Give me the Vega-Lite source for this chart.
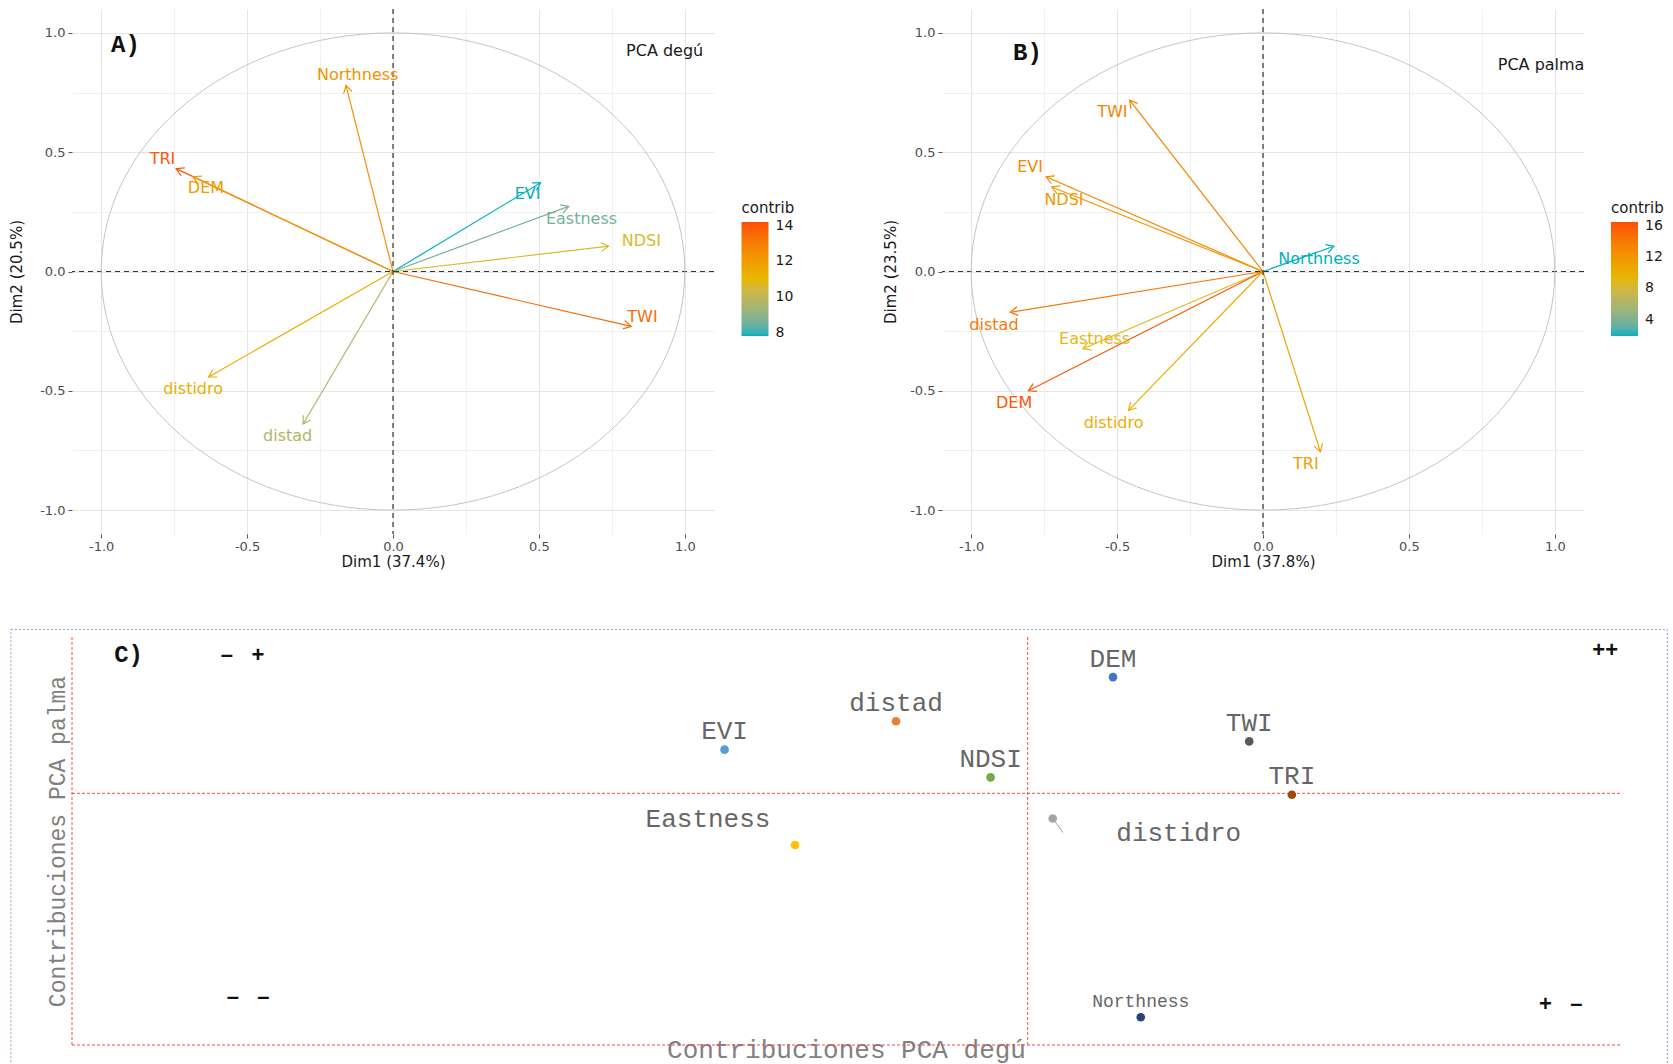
{
  "$schema": "https://vega.github.io/schema/vega-lite/v6.json",
  "padding": {"left": 9, "top": 8, "right": 0, "bottom": 0},
  "background": "white",
  "config": {"view": {"stroke": null}},
  "datasets": {
    "degu": [
      {"var": "TRI", "x": -0.743, "y": 0.431, "lx": -0.79, "ly": 0.473, "contrib": 13.96},
      {"var": "DEM", "x": -0.685, "y": 0.397, "lx": -0.641, "ly": 0.349, "contrib": 12.03},
      {"var": "Northness", "x": -0.161, "y": 0.78, "lx": -0.121, "ly": 0.824, "contrib": 12.33},
      {"var": "EVI", "x": 0.506, "y": 0.372, "lx": 0.461, "ly": 0.323, "contrib": 7.84},
      {"var": "Eastness", "x": 0.602, "y": 0.273, "lx": 0.646, "ly": 0.222, "contrib": 8.6},
      {"var": "NDSI", "x": 0.739, "y": 0.106, "lx": 0.851, "ly": 0.129, "contrib": 10.71},
      {"var": "TWI", "x": 0.816, "y": -0.23, "lx": 0.855, "ly": -0.191, "contrib": 13.5},
      {"var": "distidro", "x": -0.632, "y": -0.442, "lx": -0.685, "ly": -0.492, "contrib": 11.38},
      {"var": "distad", "x": -0.308, "y": -0.639, "lx": -0.361, "ly": -0.689, "contrib": 9.69}
    ],
    "palma": [
      {"var": "TWI", "x": -0.457, "y": 0.718, "lx": -0.516, "ly": 0.669, "contrib": 13.3},
      {"var": "EVI", "x": -0.743, "y": 0.397, "lx": -0.798, "ly": 0.439, "contrib": 12.95},
      {"var": "NDSI", "x": -0.724, "y": 0.354, "lx": -0.682, "ly": 0.299, "contrib": 11.78},
      {"var": "Northness", "x": 0.243, "y": 0.106, "lx": 0.192, "ly": 0.054, "contrib": 1.67},
      {"var": "distad", "x": -0.866, "y": -0.171, "lx": -0.922, "ly": -0.225, "contrib": 14.15},
      {"var": "Eastness", "x": -0.617, "y": -0.324, "lx": -0.577, "ly": -0.282, "contrib": 8.93},
      {"var": "DEM", "x": -0.804, "y": -0.5, "lx": -0.853, "ly": -0.551, "contrib": 16.01},
      {"var": "distidro", "x": -0.461, "y": -0.582, "lx": -0.512, "ly": -0.636, "contrib": 10.05},
      {"var": "TRI", "x": 0.197, "y": -0.756, "lx": 0.147, "ly": -0.806, "contrib": 11.05}
    ],
    "contrib": [
      {"var": "EVI", "degu": 7.84, "palma": 12.95},
      {"var": "Eastness", "degu": 8.6, "palma": 8.93},
      {"var": "distad", "degu": 9.69, "palma": 14.15},
      {"var": "NDSI", "degu": 10.71, "palma": 11.78},
      {"var": "distidro", "degu": 11.38, "palma": 10.05},
      {"var": "DEM", "degu": 12.03, "palma": 16.01},
      {"var": "Northness", "degu": 12.33, "palma": 1.67},
      {"var": "TWI", "degu": 13.5, "palma": 13.3},
      {"var": "TRI", "degu": 13.96, "palma": 11.05}
    ],
    "redlines": [
      {"x1": 0.8, "y1": 0.5, "x2": 0.8, "y2": 17.7},
      {"x1": 11.11, "y1": 0.5, "x2": 11.11, "y2": 17.7},
      {"x1": 0.8, "y1": 0.5, "x2": 17.5, "y2": 0.5},
      {"x1": 0.8, "y1": 11.11, "x2": 17.5, "y2": 11.11}
    ],
    "signs": [
      {"t": "–\u00a0\u00a0\u00a0+", "x": 2.64, "y": 16.94},
      {"t": "++", "x": 17.34, "y": 17.14},
      {"t": "–\u00a0\u00a0\u00a0–", "x": 2.7, "y": 2.54},
      {"t": "+\u00a0\u00a0\u00a0–", "x": 16.86, "y": 2.23}
    ]
  },
  "resolve": {"scale": {"color": "independent"}, "legend": {"color": "independent"}},
  "spacing": 59,
  "vconcat": [
    {
      "hconcat": [
        {
          "width": 642,
          "height": 525,
          "resolve": {"scale": {"color": "independent"}, "legend": {"color": "independent"}},
          "layer": [
            {
              "data": {"name": "degu"},
              "mark": {"type": "rule", "strokeWidth": 1.2},
              "encoding": {
                "x": {"field": "x", "type": "quantitative",
                  "scale": {"domain": [-1.1, 1.1], "nice": false, "zero": false},
                  "axis": {
                    "title": "Dim1 (37.4%)",
                    "values": [-1, -0.75, -0.5, -0.25, 0, 0.25, 0.5, 0.75, 1],
                    "labelExpr": "abs(datum.value % 0.5) < 0.01 ? replace(format(datum.value, '.1f'), '\u2212', '-') : ''",
                    "labelOverlap": false, "labelFlush": false,
                    "grid": true,
                    "gridColor": {"condition": {"test": "abs(datum.value % 0.5) < 0.01", "value": "#E6E6E6"}, "value": "#F0F0F0"},
                    "tickColor": {"condition": {"test": "abs(datum.value % 0.5) < 0.01", "value": "#555555"}, "value": "transparent"},
                    "tickSize": 4, "domain": false, "labelPadding": 2,
                    "labelFont": "DejaVu Sans", "labelFontSize": 13, "labelColor": "#4D4D4D",
                    "titleFont": "DejaVu Sans", "titleFontSize": 15, "titleFontWeight": "normal", "titleColor": "#1A1A1A", "titlePadding": 1
                  }},
                "y": {"field": "y", "type": "quantitative",
                  "scale": {"domain": [-1.1, 1.1], "nice": false, "zero": false},
                  "axis": {
                    "title": "Dim2 (20.5%)",
                    "values": [-1, -0.75, -0.5, -0.25, 0, 0.25, 0.5, 0.75, 1],
                    "labelExpr": "abs(datum.value % 0.5) < 0.01 ? replace(format(datum.value, '.1f'), '\u2212', '-') : ''",
                    "labelOverlap": false, "labelFlush": false,
                    "grid": true,
                    "gridColor": {"condition": {"test": "abs(datum.value % 0.5) < 0.01", "value": "#E6E6E6"}, "value": "#F0F0F0"},
                    "tickColor": {"condition": {"test": "abs(datum.value % 0.5) < 0.01", "value": "#555555"}, "value": "transparent"},
                    "tickSize": 4, "domain": false, "labelPadding": 3,
                    "labelFont": "DejaVu Sans", "labelFontSize": 13, "labelColor": "#4D4D4D",
                    "titleFont": "DejaVu Sans", "titleFontSize": 15, "titleFontWeight": "normal", "titleColor": "#1A1A1A", "titlePadding": 15
                  }},
                "x2": {"datum": 0},
                "y2": {"datum": 0},
                "color": {"field": "contrib", "type": "quantitative",
                  "scale": {"type": "linear", "domain": [7.83, 11.0, 14.2], "range": ["#00AFBB", "#E7B800", "#FC4E07"], "interpolate": "lab"},
                  "legend": {"title": "contrib", "orient": "none", "legendX": 669.5, "legendY": 192, "direction": "vertical",
                    "values": [8, 10, 12, 14], "gradientLength": 114, "gradientThickness": 27, "gradientStrokeWidth": 0,
                    "titleFont": "DejaVu Sans", "titleFontSize": 15, "titleFontWeight": "normal", "titleColor": "#1A1A1A", "titlePadding": 6,
                    "labelFont": "DejaVu Sans", "labelFontSize": 14, "labelColor": "#1A1A1A", "labelOffset": 7}}
              }
            },
            {
              "data": {"values": [{}]},
              "mark": {"type": "rule", "color": "#333333", "strokeDash": [5, 4], "strokeWidth": 1.2},
              "encoding": {"x": {"datum": 0, "type": "quantitative"}}
            },
            {
              "data": {"values": [{}]},
              "mark": {"type": "rule", "color": "#333333", "strokeDash": [5, 4], "strokeWidth": 1.2},
              "encoding": {"y": {"datum": 0, "type": "quantitative"}}
            },
            {
              "data": {"values": [{}]},
              "mark": {"type": "point", "filled": false, "color": "#C4C4C4", "strokeWidth": 1, "opacity": 1, "size": 340589,
                "shape": "M 1 0 C 1 0.4516 0.5523 0.8177 0 0.8177 C -0.5523 0.8177 -1 0.4516 -1 0 C -1 -0.4516 -0.5523 -0.8177 0 -0.8177 C 0.5523 -0.8177 1 -0.4516 1 0 Z"},
              "encoding": {"x": {"datum": 0, "type": "quantitative"}, "y": {"datum": 0, "type": "quantitative"}}
            },
            {
              "data": {"name": "degu"},
              "transform": [{"calculate": "atan2(datum.x * 291.8, datum.y * 238.6) * 180 / PI", "as": "ang"}],
              "mark": {"type": "point", "filled": false, "strokeWidth": 1.2, "opacity": 1, "size": 300, "shape": "M -0.5 0.866 L 0 0 L 0.5 0.866"},
              "encoding": {
                "x": {"field": "x", "type": "quantitative"},
                "y": {"field": "y", "type": "quantitative"},
                "angle": {"field": "ang", "type": "quantitative", "scale": null},
                "color": {"field": "contrib", "type": "quantitative",
                  "scale": {"type": "linear", "domain": [7.83, 11.0, 14.2], "range": ["#00AFBB", "#E7B800", "#FC4E07"], "interpolate": "lab"},
                  "legend": null}
              }
            },
            {
              "data": {"name": "degu"},
              "mark": {"type": "text", "font": "DejaVu Sans", "fontSize": 16, "align": "center", "baseline": "middle"},
              "encoding": {
                "x": {"field": "lx", "type": "quantitative"},
                "y": {"field": "ly", "type": "quantitative"},
                "text": {"field": "var"},
                "color": {"field": "contrib", "type": "quantitative",
                  "scale": {"type": "linear", "domain": [7.83, 11.0, 14.2], "range": ["#00AFBB", "#E7B800", "#FC4E07"], "interpolate": "lab"},
                  "legend": null}
              }
            },
            {
              "data": {"values": [{"t": "A)", "x": -0.917, "y": 0.948}]},
              "mark": {"type": "text", "font": "Liberation Mono", "fontWeight": "bold", "fontSize": 24, "color": "#111111", "align": "center", "baseline": "middle"},
              "encoding": {"x": {"field": "x", "type": "quantitative"}, "y": {"field": "y", "type": "quantitative"}, "text": {"field": "t"}}
            },
            {
              "data": {"values": [{"t": "PCA degú", "x": 0.931, "y": 0.922}]},
              "mark": {"type": "text", "font": "DejaVu Sans", "fontSize": 16, "color": "#1A1A1A", "align": "center", "baseline": "middle"},
              "encoding": {"x": {"field": "x", "type": "quantitative"}, "y": {"field": "y", "type": "quantitative"}, "text": {"field": "t"}}
            }
          ]
        },
        {
          "width": 642,
          "height": 525,
          "resolve": {"scale": {"color": "independent"}, "legend": {"color": "independent"}},
          "layer": [
            {
              "data": {"name": "palma"},
              "mark": {"type": "rule", "strokeWidth": 1.2},
              "encoding": {
                "x": {"field": "x", "type": "quantitative",
                  "scale": {"domain": [-1.1, 1.1], "nice": false, "zero": false},
                  "axis": {
                    "title": "Dim1 (37.8%)",
                    "values": [-1, -0.75, -0.5, -0.25, 0, 0.25, 0.5, 0.75, 1],
                    "labelExpr": "abs(datum.value % 0.5) < 0.01 ? replace(format(datum.value, '.1f'), '\u2212', '-') : ''",
                    "labelOverlap": false, "labelFlush": false,
                    "grid": true,
                    "gridColor": {"condition": {"test": "abs(datum.value % 0.5) < 0.01", "value": "#E6E6E6"}, "value": "#F0F0F0"},
                    "tickColor": {"condition": {"test": "abs(datum.value % 0.5) < 0.01", "value": "#555555"}, "value": "transparent"},
                    "tickSize": 4, "domain": false, "labelPadding": 2,
                    "labelFont": "DejaVu Sans", "labelFontSize": 13, "labelColor": "#4D4D4D",
                    "titleFont": "DejaVu Sans", "titleFontSize": 15, "titleFontWeight": "normal", "titleColor": "#1A1A1A", "titlePadding": 1
                  }},
                "y": {"field": "y", "type": "quantitative",
                  "scale": {"domain": [-1.1, 1.1], "nice": false, "zero": false},
                  "axis": {
                    "title": "Dim2 (23.5%)",
                    "values": [-1, -0.75, -0.5, -0.25, 0, 0.25, 0.5, 0.75, 1],
                    "labelExpr": "abs(datum.value % 0.5) < 0.01 ? replace(format(datum.value, '.1f'), '\u2212', '-') : ''",
                    "labelOverlap": false, "labelFlush": false,
                    "grid": true,
                    "gridColor": {"condition": {"test": "abs(datum.value % 0.5) < 0.01", "value": "#E6E6E6"}, "value": "#F0F0F0"},
                    "tickColor": {"condition": {"test": "abs(datum.value % 0.5) < 0.01", "value": "#555555"}, "value": "transparent"},
                    "tickSize": 4, "domain": false, "labelPadding": 3,
                    "labelFont": "DejaVu Sans", "labelFontSize": 13, "labelColor": "#4D4D4D",
                    "titleFont": "DejaVu Sans", "titleFontSize": 15, "titleFontWeight": "normal", "titleColor": "#1A1A1A", "titlePadding": 11
                  }},
                "x2": {"datum": 0},
                "y2": {"datum": 0},
                "color": {"field": "contrib", "type": "quantitative",
                  "scale": {"type": "linear", "domain": [1.9, 9.2, 16.5], "range": ["#00AFBB", "#E7B800", "#FC4E07"], "interpolate": "lab"},
                  "legend": {"title": "contrib", "orient": "none", "legendX": 669, "legendY": 192, "direction": "vertical",
                    "values": [4, 8, 12, 16], "gradientLength": 114, "gradientThickness": 27, "gradientStrokeWidth": 0,
                    "titleFont": "DejaVu Sans", "titleFontSize": 15, "titleFontWeight": "normal", "titleColor": "#1A1A1A", "titlePadding": 6,
                    "labelFont": "DejaVu Sans", "labelFontSize": 14, "labelColor": "#1A1A1A", "labelOffset": 7}}
              }
            },
            {
              "data": {"values": [{}]},
              "mark": {"type": "rule", "color": "#333333", "strokeDash": [5, 4], "strokeWidth": 1.2},
              "encoding": {"x": {"datum": 0, "type": "quantitative"}}
            },
            {
              "data": {"values": [{}]},
              "mark": {"type": "rule", "color": "#333333", "strokeDash": [5, 4], "strokeWidth": 1.2},
              "encoding": {"y": {"datum": 0, "type": "quantitative"}}
            },
            {
              "data": {"values": [{}]},
              "mark": {"type": "point", "filled": false, "color": "#C4C4C4", "strokeWidth": 1, "opacity": 1, "size": 340589,
                "shape": "M 1 0 C 1 0.4516 0.5523 0.8177 0 0.8177 C -0.5523 0.8177 -1 0.4516 -1 0 C -1 -0.4516 -0.5523 -0.8177 0 -0.8177 C 0.5523 -0.8177 1 -0.4516 1 0 Z"},
              "encoding": {"x": {"datum": 0, "type": "quantitative"}, "y": {"datum": 0, "type": "quantitative"}}
            },
            {
              "data": {"name": "palma"},
              "transform": [{"calculate": "atan2(datum.x * 291.8, datum.y * 238.6) * 180 / PI", "as": "ang"}],
              "mark": {"type": "point", "filled": false, "strokeWidth": 1.2, "opacity": 1, "size": 300, "shape": "M -0.5 0.866 L 0 0 L 0.5 0.866"},
              "encoding": {
                "x": {"field": "x", "type": "quantitative"},
                "y": {"field": "y", "type": "quantitative"},
                "angle": {"field": "ang", "type": "quantitative", "scale": null},
                "color": {"field": "contrib", "type": "quantitative",
                  "scale": {"type": "linear", "domain": [1.9, 9.2, 16.5], "range": ["#00AFBB", "#E7B800", "#FC4E07"], "interpolate": "lab"},
                  "legend": null}
              }
            },
            {
              "data": {"name": "palma"},
              "mark": {"type": "text", "font": "DejaVu Sans", "fontSize": 16, "align": "center", "baseline": "middle"},
              "encoding": {
                "x": {"field": "lx", "type": "quantitative"},
                "y": {"field": "ly", "type": "quantitative"},
                "text": {"field": "var"},
                "color": {"field": "contrib", "type": "quantitative",
                  "scale": {"type": "linear", "domain": [1.9, 9.2, 16.5], "range": ["#00AFBB", "#E7B800", "#FC4E07"], "interpolate": "lab"},
                  "legend": null}
              }
            },
            {
              "data": {"values": [{"t": "B)", "x": -0.807, "y": 0.916}]},
              "mark": {"type": "text", "font": "Liberation Mono", "fontWeight": "bold", "fontSize": 24, "color": "#111111", "align": "center", "baseline": "middle"},
              "encoding": {"x": {"field": "x", "type": "quantitative"}, "y": {"field": "y", "type": "quantitative"}, "text": {"field": "t"}}
            },
            {
              "data": {"values": [{"t": "PCA palma", "x": 0.953, "y": 0.865}]},
              "mark": {"type": "text", "font": "DejaVu Sans", "fontSize": 16, "color": "#1A1A1A", "align": "center", "baseline": "middle"},
              "encoding": {"x": {"field": "x", "type": "quantitative"}, "y": {"field": "y", "type": "quantitative"}, "text": {"field": "t"}}
            }
          ]
        }
      ],
      "bounds": "flush",
      "spacing": 228,
      "resolve": {"scale": {"color": "independent"}, "legend": {"color": "independent"}}
    },
    {
      "width": 1548,
      "height": 408,
      "layer": [
        {
          "data": {"values": [{"x1": 0.141, "x2": 18.01, "y1": 18.02, "y2": -0.7}]},
          "mark": {"type": "rect", "fillOpacity": 0, "stroke": "#7EA1D8", "strokeDash": [2, 2], "strokeWidth": 1},
          "encoding": {
            "x": {"field": "x1", "type": "quantitative"},
            "x2": {"field": "x2"},
            "y": {"field": "y1", "type": "quantitative"},
            "y2": {"field": "y2"}
          }
        },
        {
          "data": {"name": "redlines"},
          "mark": {"type": "rule", "color": "#F04B4B", "strokeDash": [3, 2], "strokeWidth": 1},
          "encoding": {
            "x": {"field": "x1", "type": "quantitative"},
            "x2": {"field": "x2"},
            "y": {"field": "y1", "type": "quantitative"},
            "y2": {"field": "y2"}
          }
        },
        {
          "data": {"values": [{"x": 11.38, "y": 10.05, "x2": 11.49, "y2": 9.46}]},
          "mark": {"type": "rule", "color": "#A5A5A5", "strokeWidth": 1},
          "encoding": {
            "x": {"field": "x", "type": "quantitative"},
            "x2": {"field": "x2"},
            "y": {"field": "y", "type": "quantitative"},
            "y2": {"field": "y2"}
          }
        },
        {
          "data": {"name": "contrib"},
          "mark": {"type": "circle", "size": 75, "opacity": 1},
          "encoding": {
            "x": {"field": "degu", "type": "quantitative",
              "scale": {"domain": [0.8, 17.5], "nice": false, "zero": false},
              "axis": {"title": "Contribuciones PCA degú", "labels": false, "ticks": false, "domain": false, "grid": false,
                "titleFont": "Liberation Mono", "titleFontSize": 26, "titleFontWeight": "normal", "titleColor": "#808080",
                "titleBaseline": "middle", "titleY": 4}},
            "y": {"field": "palma", "type": "quantitative",
              "scale": {"domain": [0.5, 17.7], "nice": false, "zero": false},
              "axis": {"title": "Contribuciones PCA palma", "labels": false, "ticks": false, "domain": false, "grid": false,
                "titleFont": "Liberation Mono", "titleFontSize": 23, "titleFontWeight": "normal", "titleColor": "#808080",
                "titleAngle": -90, "titleBaseline": "middle", "titleAlign": "center", "titleX": -15, "titleY": 204}},
            "color": {"field": "var", "type": "nominal",
              "scale": {"domain": ["DEM", "distad", "EVI", "NDSI", "TWI", "TRI", "distidro", "Eastness", "Northness"],
                "range": ["#4472C4", "#ED7D31", "#5B9BD5", "#70AD47", "#595959", "#9E480E", "#A5A5A5", "#FFC000", "#264478"]},
              "legend": null}
          }
        },
        {
          "data": {"name": "contrib"},
          "transform": [{"filter": "datum.var != 'Eastness' && datum.var != 'distidro' && datum.var != 'Northness'"}],
          "mark": {"type": "text", "font": "Liberation Mono", "fontSize": 26, "color": "#666666", "align": "center", "baseline": "middle", "dy": -18.5},
          "encoding": {"x": {"field": "degu", "type": "quantitative"}, "y": {"field": "palma", "type": "quantitative"}, "text": {"field": "var"}}
        },
        {
          "data": {"name": "contrib"},
          "transform": [{"filter": "datum.var == 'Eastness'"}],
          "mark": {"type": "text", "font": "Liberation Mono", "fontSize": 26, "color": "#666666", "align": "center", "baseline": "middle", "dx": -87, "dy": -26.5},
          "encoding": {"x": {"field": "degu", "type": "quantitative"}, "y": {"field": "palma", "type": "quantitative"}, "text": {"field": "var"}}
        },
        {
          "data": {"name": "contrib"},
          "transform": [{"filter": "datum.var == 'distidro'"}],
          "mark": {"type": "text", "font": "Liberation Mono", "fontSize": 26, "color": "#666666", "align": "center", "baseline": "middle", "dx": 126, "dy": 14.7},
          "encoding": {"x": {"field": "degu", "type": "quantitative"}, "y": {"field": "palma", "type": "quantitative"}, "text": {"field": "var"}}
        },
        {
          "data": {"name": "contrib"},
          "transform": [{"filter": "datum.var == 'Northness'"}],
          "mark": {"type": "text", "font": "Liberation Mono", "fontSize": 18, "color": "#666666", "align": "center", "baseline": "middle", "dy": -15},
          "encoding": {"x": {"field": "degu", "type": "quantitative"}, "y": {"field": "palma", "type": "quantitative"}, "text": {"field": "var"}}
        },
        {
          "data": {"values": [{"t": "C)", "x": 1.41, "y": 16.93}]},
          "mark": {"type": "text", "font": "Liberation Mono", "fontWeight": "bold", "fontSize": 24, "color": "#111111", "align": "center", "baseline": "middle"},
          "encoding": {"x": {"field": "x", "type": "quantitative"}, "y": {"field": "y", "type": "quantitative"}, "text": {"field": "t"}}
        },
        {
          "data": {"name": "signs"},
          "mark": {"type": "text", "font": "Liberation Sans", "fontWeight": "bold", "fontSize": 22, "color": "#111111", "align": "center", "baseline": "middle"},
          "encoding": {"x": {"field": "x", "type": "quantitative"}, "y": {"field": "y", "type": "quantitative"}, "text": {"field": "t"}}
        }
      ]
    }
  ]
}
